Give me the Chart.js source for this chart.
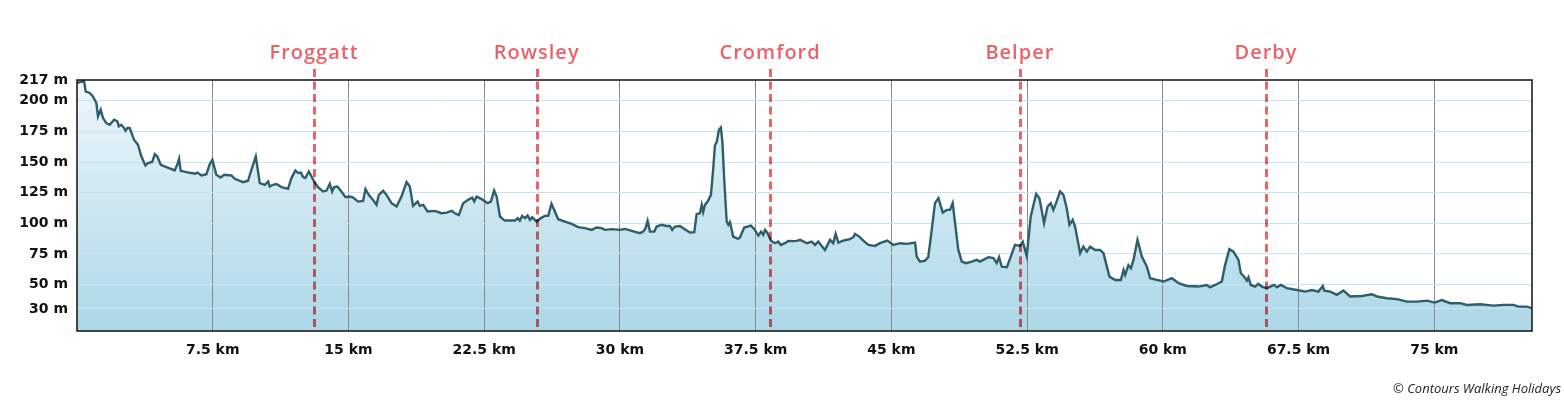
<!DOCTYPE html>
<html>
<head>
<meta charset="utf-8">
<script src="https://cdn.jsdelivr.net/npm/chart.js@4"></script>
<style>
  body { margin: 0; background: #fff; }
  #wrap { position: relative; width: 1564px; height: 403px; }
</style>
</head>
<body>
<div id="wrap"><canvas id="profileChart" width="1564" height="403"></canvas></div>
<script>
// Elevation profile (distance in km, elevation in m)
const distanceKm = [
  0.00, 0.39, 0.48, 0.70, 0.88, 1.07, 1.16, 1.31, 1.44, 1.62, 1.81, 2.05, 2.23, 2.31, 2.45, 2.60, 2.68, 2.79, 2.91, 3.15,
  3.37, 3.56, 3.78, 3.92, 4.15, 4.30, 4.44, 4.63, 4.94, 5.40, 5.55, 5.64, 5.73, 6.05, 6.51, 6.65, 6.88, 7.15, 7.34, 7.48,
  7.70, 7.94, 8.13, 8.53, 8.72, 9.18, 9.45, 9.64, 9.88, 10.10, 10.38, 10.56, 10.65, 10.83, 11.02, 11.30, 11.66, 11.85, 12.07, 12.22,
  12.37, 12.49, 12.62, 12.81, 12.96, 13.10, 13.32, 13.60, 13.79, 13.97, 14.10, 14.21, 14.39, 14.65, 14.84, 15.08, 15.26, 15.53, 15.81, 15.94,
  16.12, 16.36, 16.55, 16.68, 16.92, 17.10, 17.38, 17.66, 17.93, 18.21, 18.39, 18.57, 18.82, 18.94, 19.13, 19.37, 19.77, 20.14, 20.42, 20.70,
  20.88, 21.10, 21.34, 21.61, 21.84, 21.95, 22.08, 22.36, 22.69, 22.87, 23.05, 23.19, 23.37, 23.64, 24.20, 24.35, 24.47, 24.60, 24.75, 24.90,
  25.03, 25.15, 25.40, 25.63, 25.85, 26.04, 26.22, 26.37, 26.59, 26.96, 27.33, 27.69, 28.07, 28.44, 28.71, 28.99, 29.17, 29.54, 30.00, 30.28,
  30.65, 31.11, 31.29, 31.42, 31.53, 31.66, 31.90, 32.03, 32.31, 32.58, 32.76, 32.89, 33.04, 33.32, 33.44, 33.63, 33.87, 34.11, 34.24, 34.42,
  34.52, 34.60, 34.70, 34.85, 35.03, 35.16, 35.25, 35.36, 35.47, 35.58, 35.66, 35.77, 35.90, 35.99, 36.08, 36.26, 36.54, 36.63, 36.87, 37.24,
  37.42, 37.65, 37.80, 37.92, 38.02, 38.16, 38.35, 38.57, 38.75, 38.90, 39.12, 39.31, 39.58, 39.77, 39.96, 40.33, 40.60, 40.78, 40.96, 41.33,
  41.61, 41.79, 41.92, 42.07, 42.34, 42.68, 42.90, 42.99, 43.23, 43.45, 43.73, 44.10, 44.37, 44.78, 45.11, 45.48, 45.85, 46.31, 46.40, 46.58,
  46.86, 47.04, 47.23, 47.41, 47.60, 47.84, 48.06, 48.24, 48.39, 48.52, 48.70, 48.89, 49.13, 49.44, 49.72, 49.90, 50.08, 50.36, 50.64, 50.82,
  50.95, 51.10, 51.38, 51.60, 51.83, 52.11, 52.26, 52.48, 52.70, 53.00, 53.18, 53.44, 53.63, 53.81, 53.95, 54.10, 54.32, 54.51, 54.69, 54.84,
  55.02, 55.15, 55.43, 55.61, 55.80, 55.98, 56.26, 56.53, 56.72, 57.05, 57.37, 57.68, 57.83, 57.92, 58.10, 58.24, 58.38, 58.60, 58.84, 59.12,
  59.30, 59.67, 60.04, 60.50, 60.87, 61.33, 61.97, 62.43, 62.61, 62.89, 63.26, 63.44, 63.68, 63.90, 64.18, 64.31, 64.49, 64.64, 64.73, 64.86,
  65.10, 65.28, 65.47, 65.75, 66.15, 66.30, 66.52, 66.85, 67.41, 67.87, 68.24, 68.60, 68.84, 68.92, 69.25, 69.62, 69.98, 70.35, 71.00, 71.55,
  71.83, 72.38, 72.94, 73.49, 74.04, 74.60, 75.02, 75.42, 75.88, 76.43, 76.80, 77.54, 78.27, 78.82, 79.38, 79.65, 80.11, 80.39
];
const elevationM = [
  214.5, 216.4, 207.7, 206.4, 203.6, 198.2, 187.2, 192.7, 185.9, 181.8, 180.4, 184.5, 183.2, 179.1, 180.4, 177.8, 175.5, 177.8, 177.8, 168.2,
  164.1, 154.5, 147.2, 149.1, 150.0, 156.5, 154.5, 147.7, 145.9, 143.1, 148.3, 152.6, 142.8, 141.8, 140.4, 141.4, 139.0, 140.1, 148.3, 151.8,
  139.6, 137.4, 139.6, 139.0, 136.3, 133.6, 134.7, 143.7, 154.5, 132.8, 131.4, 134.1, 130.0, 131.4, 132.0, 129.5, 128.1, 136.9, 143.1, 141.0,
  141.4, 137.7, 136.9, 142.3, 138.2, 134.1, 129.5, 125.9, 126.7, 132.2, 125.9, 129.5, 130.0, 125.1, 121.3, 121.8, 121.0, 117.7, 118.3, 127.9,
  123.2, 119.1, 115.0, 123.2, 126.5, 123.2, 116.4, 113.6, 121.8, 133.6, 130.0, 114.2, 117.7, 114.2, 115.0, 109.6, 110.1, 108.2, 108.7, 110.1,
  108.2, 106.6, 116.4, 119.1, 121.0, 117.7, 121.8, 119.7, 116.4, 117.7, 126.7, 121.8, 105.5, 102.2, 102.2, 104.2, 102.2, 106.0, 104.2, 106.3,
  102.8, 104.9, 101.4, 104.2, 106.0, 106.0, 115.9, 110.9, 103.3, 101.4, 99.5, 96.8, 96.0, 94.6, 96.5, 96.0, 94.6, 95.2, 94.6, 95.4,
  93.8, 91.9, 93.2, 96.0, 102.0, 93.2, 93.2, 97.3, 98.7, 97.8, 97.8, 94.6, 97.3, 97.8, 96.5, 94.6, 92.4, 92.7, 107.4, 108.2,
  115.0, 109.1, 115.0, 117.7, 123.2, 145.0, 163.5, 166.8, 176.4, 178.2, 166.8, 134.1, 101.4, 98.7, 100.9, 89.1, 87.2, 88.3, 96.5, 98.1,
  95.4, 89.9, 93.2, 90.5, 94.6, 91.9, 85.6, 83.7, 85.0, 82.3, 83.7, 85.6, 85.4, 85.6, 86.4, 83.7, 85.0, 82.3, 85.0, 78.2,
  86.4, 83.7, 91.3, 84.2, 85.8, 86.9, 88.6, 91.3, 89.1, 85.8, 82.3, 81.5, 83.7, 85.8, 82.3, 83.7, 83.2, 84.2, 72.8, 68.7,
  69.5, 72.3, 94.6, 116.4, 120.5, 108.7, 110.9, 110.9, 116.4, 100.1, 78.2, 68.7, 67.4, 68.7, 70.1, 68.7, 70.1, 72.3, 71.5, 67.4,
  72.3, 64.6, 64.1, 72.8, 82.3, 81.5, 85.0, 73.3, 105.5, 124.0, 120.5, 100.1, 113.6, 116.4, 110.9, 116.4, 125.9, 123.2, 112.3, 98.7,
  102.8, 97.3, 75.5, 80.9, 76.8, 80.9, 78.2, 78.2, 75.5, 56.4, 53.7, 53.7, 61.9, 57.8, 65.8, 63.3, 70.1, 86.4, 72.8, 64.6,
  55.1, 53.7, 52.4, 55.1, 51.0, 48.8, 48.3, 49.6, 47.7, 49.6, 52.4, 65.8, 78.8, 76.8, 70.1, 59.2, 56.4, 53.1, 55.9, 49.6,
  48.3, 50.5, 48.3, 47.0, 49.6, 47.7, 49.6, 47.0, 45.5, 44.2, 45.5, 44.2, 48.8, 45.0, 44.2, 41.6, 45.0, 40.2, 40.6, 42.0,
  40.2, 38.8, 38.0, 36.0, 36.0, 36.8, 35.2, 37.3, 34.7, 34.7, 33.3, 33.8, 32.7, 33.3, 33.3, 31.9, 31.9, 30.6
];

// Towns along the route
const waypointNames = ['Froggatt', 'Rowsley', 'Cromford', 'Belper', 'Derby'];
const waypointKm = [13.1, 25.4, 38.3, 52.1, 65.7];

// Axis ticks
const xTicks = [7.5, 15, 22.5, 30, 37.5, 45, 52.5, 60, 67.5, 75];
const yTicks = [30, 50, 75, 100, 125, 150, 175, 200, 217];

const points = distanceKm.map((d, i) => ({ x: d, y: elevationM[i] }));

// vertical dashed markers + town names
const waypointPlugin = {
    id: 'waypoints',
    afterDatasetsDraw(chart) {
        const { ctx, chartArea, scales } = chart;
        ctx.save();
        ctx.globalCompositeOperation = 'multiply';
        ctx.strokeStyle = '#ea646b';
        ctx.lineWidth = 3;
        ctx.setLineDash([8, 4.5]);
        waypointKm.forEach(km => {
            const x = Math.round(scales.x.getPixelForValue(km)) + 0.5;
            ctx.beginPath();
            ctx.moveTo(x, 69);
            ctx.lineTo(x, chartArea.bottom);
            ctx.stroke();
        });
        ctx.restore();

        ctx.save();
        ctx.fillStyle = '#e9646a';
        ctx.font = '600 20px "Open Sans"';
        ctx.letterSpacing = '1px';
        ctx.textAlign = 'center';
        ctx.textBaseline = 'alphabetic';
        waypointNames.forEach((name, i) => {
            const x = scales.x.getPixelForValue(waypointKm[i]);
            ctx.fillText(name, x, 59);
        });
        ctx.restore();
    },
    afterDraw(chart) {
        const { ctx, chartArea } = chart;
        ctx.save();
        ctx.strokeStyle = '#111';
        ctx.lineWidth = 1.5;
        ctx.strokeRect(chartArea.left, chartArea.top, chartArea.right - chartArea.left, chartArea.bottom - chartArea.top);
        ctx.fillStyle = '#222';
        ctx.font = 'italic 13px "Open Sans"';
        ctx.textAlign = 'right';
        ctx.textBaseline = 'alphabetic';
        ctx.fillText('\u00A9 Contours Walking Holidays', 1561, 393);
        ctx.restore();
    }
};

const ctx = document.getElementById('profileChart').getContext('2d');
new Chart(ctx, {
    type: 'line',
    data: {
        datasets: [{
            label: 'Elevation',
            data: points,
            borderColor: '#2e5e6c',
            borderWidth: 2.4,
            pointRadius: 0,
            tension: 0,
            fill: 'start',
            backgroundColor: (c) => {
                const area = c.chart.chartArea;
                if (!area) return '#cfe8f2';
                const g = c.chart.ctx.createLinearGradient(0, area.top, 0, area.bottom);
                g.addColorStop(0, '#eef7fb');
                g.addColorStop(1, '#acd7e7');
                return g;
            }
        }]
    },
    options: {
        responsive: false,
        animation: false,
        layout: { padding: { top: 80, right: 32, left: 0, bottom: 0 } },
        plugins: {
            legend: { display: false },
            tooltip: { enabled: false },
            filler: { drawTime: 'beforeDraw' }
        },
        scales: {
            x: {
                type: 'linear',
                min: 0,
                max: 80.4,
                afterBuildTicks: (axis) => { axis.ticks = xTicks.map(v => ({ value: v })); },
                afterFit: (axis) => { axis.height = 72; },
                grid: { color: '#8a8a8a', lineWidth: 1, drawTicks: false },
                border: { display: false },
                ticks: {
                    maxRotation: 0,
                    autoSkip: false,
                    padding: 11,
                    color: '#111',
                    font: { family: 'DejaVu Sans', weight: 'bold', size: 14 },
                    callback: (v) => v + ' km'
                }
            },
            y: {
                min: 12,
                max: 217,
                afterBuildTicks: (axis) => { axis.ticks = yTicks.map(v => ({ value: v })); },
                afterFit: (axis) => { axis.width = 77; },
                grid: {
                    color: (c) => c.tick && c.tick.value === 217 ? 'rgba(0,0,0,0)' : '#c6e5f2',
                    lineWidth: 1,
                    drawTicks: false
                },
                border: { display: false },
                ticks: {
                    autoSkip: false,
                    padding: 9,
                    color: '#111',
                    font: { family: 'DejaVu Sans', weight: 'bold', size: 14 },
                    callback: (v) => v + ' m'
                }
            }
        }
    },
    plugins: [waypointPlugin]
});
</script>
</body>
</html>
